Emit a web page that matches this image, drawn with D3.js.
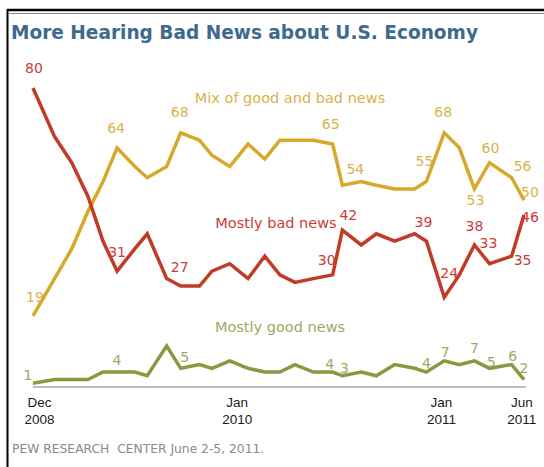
<!DOCTYPE html>
<html>
<head>
<meta charset="utf-8">
<script src="https://cdn.jsdelivr.net/npm/d3@7"></script>
<style>
  body { margin: 0; background: #fff; }
  svg { display: block; font-family: "DejaVu Sans", Verdana, sans-serif; }
</style>
</head>
<body>
<div id="chart"></div>
<script>
// survey dates (read from point positions)
const surveyDates = [
  "2008-12-05", "2009-01-14", "2009-02-15", "2009-03-17", "2009-04-14",
  "2009-05-10", "2009-06-12", "2009-07-05", "2009-08-10", "2009-09-05",
  "2009-10-10", "2009-11-02", "2009-12-05", "2010-01-08", "2010-02-08",
  "2010-03-08", "2010-04-05", "2010-05-09", "2010-06-14", "2010-07-02",
  "2010-08-06", "2010-09-03", "2010-10-07", "2010-11-13", "2010-12-05",
  "2011-01-07", "2011-02-04", "2011-03-04", "2011-04-01", "2011-05-12",
  "2011-06-04"
];

const mixNews = [19, 29, 37, 47, 55, 64, 59, 56, 59, 68, 66, 62, 59, 65, 61, 66,
  66, 66, 65, 54, 55, 54, 53, 53, 55, 68, 64, 53, 60, 56, 50];
const badNews = [80, 67, 60, 51, 39, 31, 37, 41, 29, 27, 27, 31, 33, 29, 35, 30,
  28, 29, 30, 42, 38, 41, 39, 41, 39, 24, 30, 38, 33, 35, 46];
const goodNews = [1, 2, 2, 2, 4, 4, 4, 3, 11, 5, 6, 5, 7, 5, 4, 4,
  6, 4, 4, 3, 4, 3, 6, 5, 4, 7, 6, 7, 5, 6, 2];

// points that carry a value label
const labeledIdx = [0, 5, 9, 18, 19, 24, 25, 27, 28, 29, 30];

const tickDates = ["2008-12-16", "2009-12-18", "2011-01-01", "2011-05-30"];
const tickLabels = [["Dec", "2008"], ["Jan", "2010"], ["Jan", "2011"], ["Jun", "2011"]];

const titleText = "More Hearing Bad News about U.S. Economy";
const sourceText = "PEW RESEARCH  CENTER June 2-5, 2011.";

const series = [
  {
    name: "Mix of good and bad news", values: mixNews,
    line: "#d6a82c", text: "#dcb04a",
    nameAt: [290, 103],
    offsets: [[2, -14], [-1, -15], [-1, -16], [-2, -15], [13, -11], [-2, -15],
      [-1, -16], [1, 16], [1, -10], [11, -7], [6, -3]]
  },
  {
    name: "Mostly bad news", values: badNews,
    line: "#c23b27", text: "#cc3a3a",
    nameAt: [276, 228],
    offsets: [[1, -15], [0, -14], [-1, -14], [-6, -10], [6, -10], [-3, -14],
      [5, -19], [0, -14], [-1, -16], [11, 9], [6, 7]]
  },
  {
    name: "Mostly good news", values: goodNews,
    line: "#8a9840", text: "#a3a666",
    nameAt: [280, 332],
    offsets: [[-5, -3], [0, -7], [4, -6], [-3, -3], [2, -3], [0, -4],
      [1, -4], [0, -8], [2, -1], [1, -4], [0, -7]]
  }
];

const width = 544;
const height = 467;
const parse = d3.timeParse("%Y-%m-%d");
const dates = surveyDates.map(parse);

const x = d3.scaleTime()
  .domain(d3.extent(dates))
  .range([33, 524]);

const y = d3.scaleLinear()
  .domain([0, 80])
  .range([387, 88]);

const svg = d3.select("#chart").append("svg")
  .attr("width", width)
  .attr("height", height);

// frame rules
svg.append("line")
  .attr("x1", 7).attr("x2", width).attr("y1", 10).attr("y2", 10)
  .attr("stroke", "#000").attr("stroke-width", 2.5);
svg.append("line")
  .attr("x1", 9).attr("x2", width).attr("y1", 13.5).attr("y2", 13.5)
  .attr("stroke", "#888").attr("stroke-width", 1);
svg.append("line")
  .attr("x1", 7.5).attr("x2", 7.5).attr("y1", 9).attr("y2", height)
  .attr("stroke", "#000").attr("stroke-width", 2);

svg.append("text")
  .attr("x", 11)
  .attr("y", 39)
  .attr("font-size", 20)
  .attr("font-weight", "bold")
  .attr("fill", "#3e6a8e")
  .attr("textLength", 467)
  .attr("lengthAdjust", "spacingAndGlyphs")
  .text(titleText);

// baseline
svg.append("line")
  .attr("x1", x.range()[0]).attr("x2", x.range()[1] + 2)
  .attr("y1", y(0)).attr("y2", y(0))
  .attr("stroke", "#a8a8a8").attr("stroke-width", 1.5);

// x axis labels
const xAxis = d3.axisBottom(x)
  .tickValues(tickDates.map(parse))
  .tickSize(0)
  .tickFormat(() => "");

const axisG = svg.append("g")
  .attr("transform", `translate(0,${y(0)})`)
  .call(xAxis);
axisG.select(".domain").remove();
axisG.selectAll(".tick text").remove();
axisG.selectAll(".tick").each(function (d, i) {
  const t = d3.select(this).append("text")
    .attr("text-anchor", "middle")
    .attr("fill", "#1a1a1a")
    .attr("font-size", 13.5);
  tickLabels[i].forEach((s, j) => {
    t.append("tspan").attr("x", 0).attr("y", 20 + j * 17).text(s);
  });
});

const line = d3.line()
  .x((d, i) => x(dates[i]))
  .y((d) => y(d));

series.forEach((s) => {
  svg.append("path")
    .datum(s.values)
    .attr("fill", "none")
    .attr("stroke", s.line)
    .attr("stroke-width", 3.5)
    .attr("d", line);

  svg.append("text")
    .attr("x", s.nameAt[0])
    .attr("y", s.nameAt[1])
    .attr("text-anchor", "middle")
    .attr("font-size", 14.5)
    .attr("fill", s.text)
    .text(s.name);

  svg.append("g")
    .selectAll("text")
    .data(labeledIdx)
    .join("text")
    .attr("x", (idx, k) => x(dates[idx]) + s.offsets[k][0])
    .attr("y", (idx, k) => y(s.values[idx]) + s.offsets[k][1])
    .attr("text-anchor", "middle")
    .attr("font-size", 14)
    .attr("fill", s.text)
    .text((idx) => s.values[idx]);
});

svg.append("text")
  .attr("x", 12)
  .attr("y", 453)
  .attr("font-size", 12.3)
  .attr("fill", "#8a8a8a")
  .style("white-space", "pre")
  .text(sourceText);
</script>
</body>
</html>
